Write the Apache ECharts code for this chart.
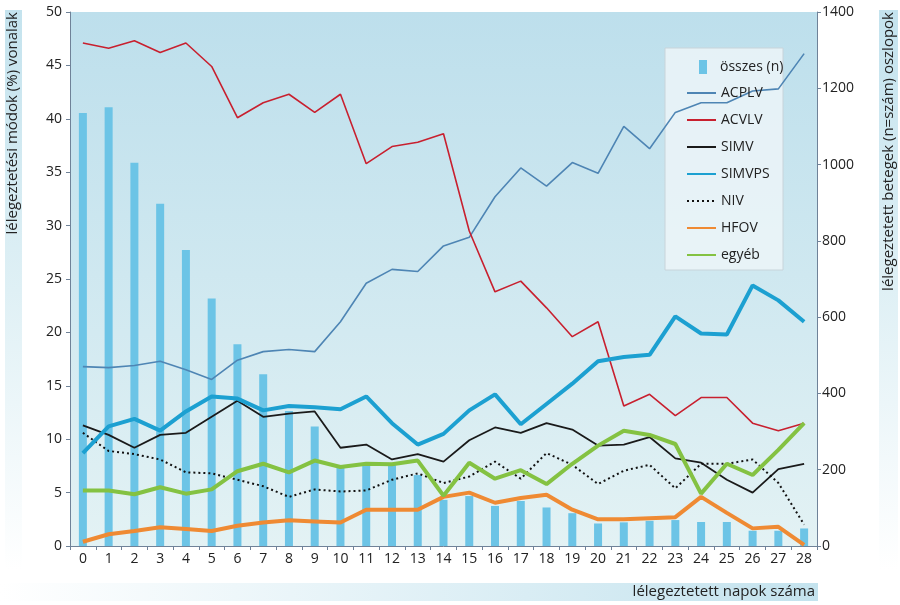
<!DOCTYPE html>
<html>
<head>
<meta charset="utf-8">
<script src="https://cdn.jsdelivr.net/npm/echarts@6/dist/echarts.min.js"></script>
<style>
html,body{margin:0;padding:0;background:#fff;}
#chart{width:900px;height:605px;}
</style>
</head>
<body>
<div id="chart"></div>
<script>
var days = ['0','1','2','3','4','5','6','7','8','9','10','11','12','13','14','15','16','17','18','19','20','21','22','23','24','25','26','27','28'];
var leftTicks = [0,5,10,15,20,25,30,35,40,45,50];
var rightTicks = [0,200,400,600,800,1000,1200,1400];
var osszes = [1135,1150,1005,897,776,649,529,450,354,313,210,217,212,186,121,131,105,118,101,86,59,62,66,68,63,63,40,40,46];
var acplv = [16.8,16.7,16.9,17.3,16.5,15.6,17.4,18.2,18.4,18.2,21.0,24.6,25.9,25.7,28.1,28.9,32.7,35.4,33.7,35.9,34.9,39.3,37.2,40.6,41.5,41.5,42.6,42.8,46.1];
var acvlv = [47.1,46.6,47.3,46.2,47.1,44.9,40.1,41.5,42.3,40.6,42.3,35.8,37.4,37.8,38.6,29.5,23.8,24.8,22.3,19.6,21.0,13.1,14.2,12.2,13.9,13.9,11.5,10.8,11.5];
var simv = [11.3,10.4,9.2,10.4,10.6,12.1,13.6,12.1,12.4,12.6,9.2,9.5,8.1,8.6,7.9,9.9,11.1,10.6,11.5,10.9,9.4,9.5,10.2,8.2,7.8,6.2,5.0,7.2,7.7];
var simvps = [8.7,11.2,11.9,10.8,12.6,14.0,13.8,12.7,13.1,13.0,12.8,14.0,11.5,9.5,10.5,12.7,14.2,11.4,13.3,15.2,17.3,17.7,17.9,21.5,19.9,19.8,24.4,23.0,21.0];
var niv = [10.6,8.9,8.6,8.1,6.9,6.8,6.2,5.6,4.6,5.3,5.1,5.2,6.2,6.8,5.9,6.5,7.9,6.3,8.7,7.6,5.8,7.05,7.6,5.4,7.7,7.7,8.1,5.9,2.0];
var hfov = [0.4,1.1,1.4,1.75,1.6,1.4,1.9,2.2,2.4,2.3,2.2,3.4,3.4,3.4,4.6,5.0,4.05,4.5,4.8,3.4,2.5,2.5,2.6,2.7,4.6,3.1,1.65,1.8,0.1];
var egyeb = [5.2,5.2,4.85,5.5,4.9,5.3,7.0,7.7,6.9,8.0,7.4,7.7,7.65,8.0,4.7,7.8,6.3,7.1,5.8,7.7,9.4,10.8,10.4,9.55,4.9,7.7,6.65,9.0,11.5];

var FONT = '"Open Sans", "Noto Sans", sans-serif';
var chart = echarts.init(document.getElementById('chart'), null, {renderer:'canvas'});

function lineSeries(name, data, color, width, type) {
  return {
    name: name, type: 'line', yAxisIndex: 0, data: data,
    symbol: 'none', smooth: false, z: 3,
    lineStyle: {color: color, width: width, type: type || 'solid'},
    itemStyle: {color: color},
    emphasis: {disabled: true}, animation: false
  };
}

var option = {
  animation: false,
  textStyle: {fontFamily: FONT},
  grid: {left: 70, right: 83, top: 12, bottom: 59,
    show: true, borderWidth: 0,
    backgroundColor: new echarts.graphic.LinearGradient(0,0,0,1,[
      {offset:0, color:'#bddfec'},{offset:0.6, color:'#d3eaf1'},{offset:1, color:'#e3f2f4'}])},
  legend: [{
    data: ['összes (n)'], orient: 'vertical', left: 694, top: 55,
    itemWidth: 8, itemHeight: 14, icon: 'rect',
    textStyle: {fontSize: 14, color: '#222', fontFamily: FONT, padding: [0,0,0,8]},
    selectedMode: false
  },{
    data: ['ACPLV','ACVLV','SIMV','SIMVPS','NIV','HFOV','egyéb'],
    orient: 'vertical', left: 681, top: 81, itemGap: 13,
    itemWidth: 29, itemHeight: 14,
    itemStyle: {opacity: 0},
    textStyle: {fontSize: 14, color: '#222', fontFamily: FONT},
    selectedMode: false
  }],
  xAxis: {
    type: 'category', data: days, boundaryGap: true,
    axisLine: {lineStyle: {color: '#6f8298', width: 1}},
    axisTick: {show: true, length: 4, lineStyle: {color: '#6f8298'}},
    axisLabel: {fontSize: 14, color: '#222', margin: 6, fontFamily: FONT, interval: 0},
    splitLine: {show: false}
  },
  yAxis: [{
    type: 'value', min: leftTicks[0], max: leftTicks[leftTicks.length-1], interval: 5,
    position: 'left',
    axisLine: {show: true, lineStyle: {color: '#6f8298', width: 1}},
    axisTick: {show: true, length: 4, lineStyle: {color: '#6f8298'}},
    axisLabel: {fontSize: 14, color: '#222', margin: 8, fontFamily: FONT,
      formatter: function (v) { return String(v); }},
    splitLine: {show: false}
  },{
    type: 'value', min: rightTicks[0], max: rightTicks[rightTicks.length-1], interval: 200,
    position: 'right',
    axisLine: {show: true, lineStyle: {color: '#6f8298', width: 1}},
    axisTick: {show: true, length: 4, lineStyle: {color: '#6f8298'}},
    axisLabel: {fontSize: 14, color: '#222', margin: 5, fontFamily: FONT,
      formatter: function (v) { return String(v); }},
    splitLine: {show: false}
  }],
  series: [
    {name: 'összes (n)', type: 'bar', yAxisIndex: 1, data: osszes, barWidth: 8, z: 2,
     itemStyle: {color: '#6cc4e6'}, emphasis: {disabled: true}},
    lineSeries('ACPLV', acplv, '#4e85b4', 1.6),
    lineSeries('ACVLV', acvlv, '#c8202f', 1.6),
    lineSeries('SIMV', simv, '#1a1a1a', 1.8),
    lineSeries('NIV', niv, '#111111', 2, [2,3]),
    lineSeries('HFOV', hfov, '#ef8a33', 4),
    lineSeries('egyéb', egyeb, '#84c242', 4),
    lineSeries('SIMVPS', simvps, '#1ca0d1', 4)
  ],
  graphic: [
    {type: 'rect', silent: true, z: -10, shape: {x: 5, y: 10, width: 17, height: 560},
     style: {fill: new echarts.graphic.LinearGradient(0,0,0,1,[{offset:0,color:'#c4e3ee'},{offset:0.5,color:'#dff0f5'},{offset:1,color:'#ffffff'}])}},
    {type: 'rect', silent: true, z: -10, shape: {x: 879, y: 10, width: 19, height: 560},
     style: {fill: new echarts.graphic.LinearGradient(0,0,0,1,[{offset:0,color:'#c4e3ee'},{offset:0.5,color:'#dff0f5'},{offset:1,color:'#ffffff'}])}},
    {type: 'rect', silent: true, z: -10, shape: {x: 0, y: 583, width: 818, height: 18},
     style: {fill: new echarts.graphic.LinearGradient(0,0,1,0,[{offset:0,color:'#ffffff'},{offset:1,color:'#c4e3ee'}])}},
    {type: 'rect', silent: true, z: 1, shape: {x: 665, y: 48, width: 118, height: 222},
     style: {fill: 'rgba(236,245,248,0.85)', stroke: '#c8d4da', lineWidth: 1}},
    {type: 'text', silent: true, z: 5, x: 13, y: 12, rotation: Math.PI/2,
     style: {text: 'lélegeztetési módok (%) vonalak', fontSize: 15, fontFamily: FONT, fill: '#222', align: 'right', verticalAlign: 'middle'}},
    {type: 'text', silent: true, z: 5, x: 889, y: 12, rotation: Math.PI/2,
     style: {text: 'lélegeztetett betegek (n=szám) oszlopok', fontSize: 15, fontFamily: FONT, fill: '#222', align: 'right', verticalAlign: 'middle'}},
    {type: 'text', silent: true, z: 5, x: 815, y: 592,
     style: {text: 'lélegeztetett napok száma', fontSize: 15, fontFamily: FONT, fill: '#222', align: 'right', verticalAlign: 'middle'}}
  ]
};
chart.setOption(option);
</script>
</body>
</html>
